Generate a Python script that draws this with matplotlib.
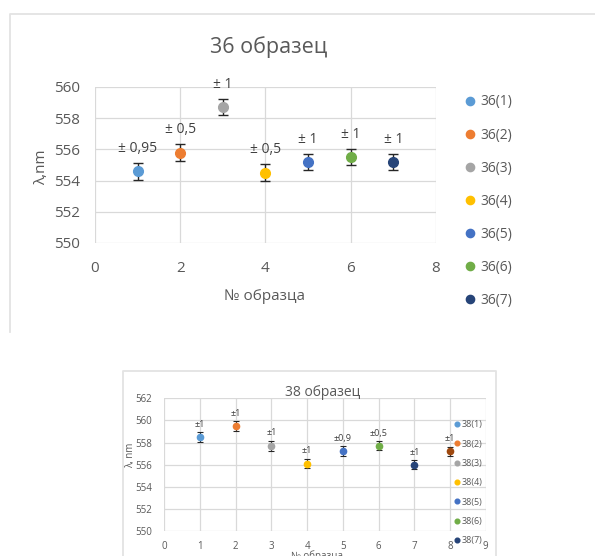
import matplotlib
matplotlib.use("Agg")
import matplotlib.pyplot as plt
from matplotlib.lines import Line2D

# ================================
# DATA
# ================================
top_x = [1, 2, 3, 4, 5, 6, 7]
top_y = [554.6, 555.8, 558.7, 554.5, 555.2, 555.5, 555.2]
top_err = [0.55, 0.55, 0.52, 0.55, 0.5, 0.5, 0.5]
top_notes = ["± 0,95", "± 0,5", "± 1", "± 0,5", "± 1", "± 1", "± 1"]
top_names = ["36(1)", "36(2)", "36(3)", "36(4)", "36(5)", "36(6)", "36(7)"]

bot_x = [1, 2, 3, 4, 5, 6, 7, 8]
bot_y = [558.5, 559.5, 557.7, 556.1, 557.2, 557.7, 556.0, 557.2]
bot_err = [0.42, 0.42, 0.45, 0.42, 0.45, 0.42, 0.42, 0.4]
bot_notes = ["±1", "±1", "±1", "±1", "±0,9", "±0,5", "±1", "±1"]
bot_names = ["38(1)", "38(2)", "38(3)", "38(4)", "38(5)", "38(6)", "38(7)", "_nolegend_"]

colors = ["#5B9BD5", "#ED7D31", "#A5A5A5", "#FFC000", "#4472C4",
          "#70AD47", "#264478", "#9E480E"]

# ================================
# FIGURE
# ================================
plt.rcParams["font.family"] = ["Open Sans", "DejaVu Sans"]
W, H = 595, 556
fig = plt.figure(figsize=(W / 100, H / 100), dpi=100)
txt = "#595959"
grid = "#D9D9D9"


def box(l, t, r, b):
    # pixel box -> figure fraction
    return [l / W, 1 - b / H, (r - l) / W, (b - t) / H]


def fx(px):
    return px / W


def fy(py):
    return 1 - py / H


def frame_line(xs, ys):
    fig.lines.append(Line2D([fx(v) for v in xs], [fy(v) for v in ys],
                            transform=fig.transFigure, color="#E3E3E3", lw=1.3))


# chart borders (only the visible sides)
frame_line([9.5, 9.5, 600], [332, 13.5, 13.5])
frame_line([122.5, 122.5, 496, 496], [560, 371, 371, 560])


def style(ax, fs):
    for s in ax.spines.values():
        s.set_visible(False)
    ax.grid(True, color=grid, lw=0.9)
    ax.set_axisbelow(True)
    ax.tick_params(length=0, labelsize=fs, colors=txt)


# ================================
# TOP CHART (36)
# ================================
ax1 = fig.add_axes(box(95, 87, 436, 243))
style(ax1, 11)
ax1.set_xlim(0, 8)
ax1.set_ylim(550, 560)
ax1.set_xticks(range(0, 9, 2))
ax1.set_yticks(range(550, 561, 2))
ax1.tick_params(axis="x", pad=13)
ax1.tick_params(axis="y", pad=11)

handles = []
for i in range(len(top_x)):
    ax1.errorbar(top_x[i], top_y[i], yerr=top_err[i], fmt="none",
                 ecolor="#262626", elinewidth=1, capsize=3.5, capthick=1, zorder=3)
    h, = ax1.plot(top_x[i], top_y[i], "o", color=colors[i], ms=7,
                  label=top_names[i], zorder=4)
    handles.append(h)
    ax1.annotate(top_notes[i], (top_x[i], top_y[i] + top_err[i]),
                 xytext=(0, 5), textcoords="offset points",
                 ha="center", va="bottom", fontsize=10, color="#404040")

fig.legend(handles=handles, loc="upper left",
           bbox_to_anchor=(fx(453), fy(82)), frameon=False,
           fontsize=10, labelcolor=txt, handlelength=0.7,
           handletextpad=0.4, labelspacing=1.3, markerscale=0.85)

fig.text(fx(269), fy(47), "36 образец", ha="center", va="center",
         fontsize=15.5, color=txt)
fig.text(fx(265), fy(296), "№ образца", ha="center", va="center",
         fontsize=11, color=txt)
fig.text(fx(42), fy(167), "λ,nm", ha="center", va="center",
         fontsize=11, color=txt, rotation=90)

# ================================
# BOTTOM CHART (38)
# ================================
ax2 = fig.add_axes(box(164.3, 398.3, 485.8, 531))
style(ax2, 7)
ax2.set_xlim(0, 9)
ax2.set_ylim(550, 562)
ax2.set_xticks(range(0, 10))
ax2.set_yticks(range(550, 563, 2))
ax2.tick_params(axis="x", pad=7)
ax2.tick_params(axis="y", pad=9)

handles2 = []
for i in range(len(bot_x)):
    ax2.errorbar(bot_x[i], bot_y[i], yerr=bot_err[i], fmt="none",
                 ecolor="#262626", elinewidth=0.8, capsize=2, capthick=0.8, zorder=3)
    h, = ax2.plot(bot_x[i], bot_y[i], "o", color=colors[i], ms=4.5,
                  label=bot_names[i], zorder=4)
    if not bot_names[i].startswith("_"):
        handles2.append(h)
    ax2.annotate(bot_notes[i], (bot_x[i], bot_y[i] + bot_err[i]),
                 xytext=(0, 2.5), textcoords="offset points",
                 ha="center", va="bottom", fontsize=6.5, color="#404040")

fig.legend(handles=handles2, loc="upper left",
           bbox_to_anchor=(fx(446), fy(412)), frameon=False,
           fontsize=6.5, labelcolor=txt, handlelength=0.6,
           handletextpad=0.25, labelspacing=1.15, markerscale=0.75)

fig.text(fx(323), fy(393), "38 образец", ha="center", va="center",
         fontsize=10, color=txt)
fig.text(fx(317), fy(556), "№ образца", ha="center", va="center",
         fontsize=7, color=txt)
fig.text(fx(131), fy(455), "λ, nm", ha="center", va="center",
         fontsize=7, color=txt, rotation=90)

fig.savefig("out.png", dpi=100, facecolor="white")
